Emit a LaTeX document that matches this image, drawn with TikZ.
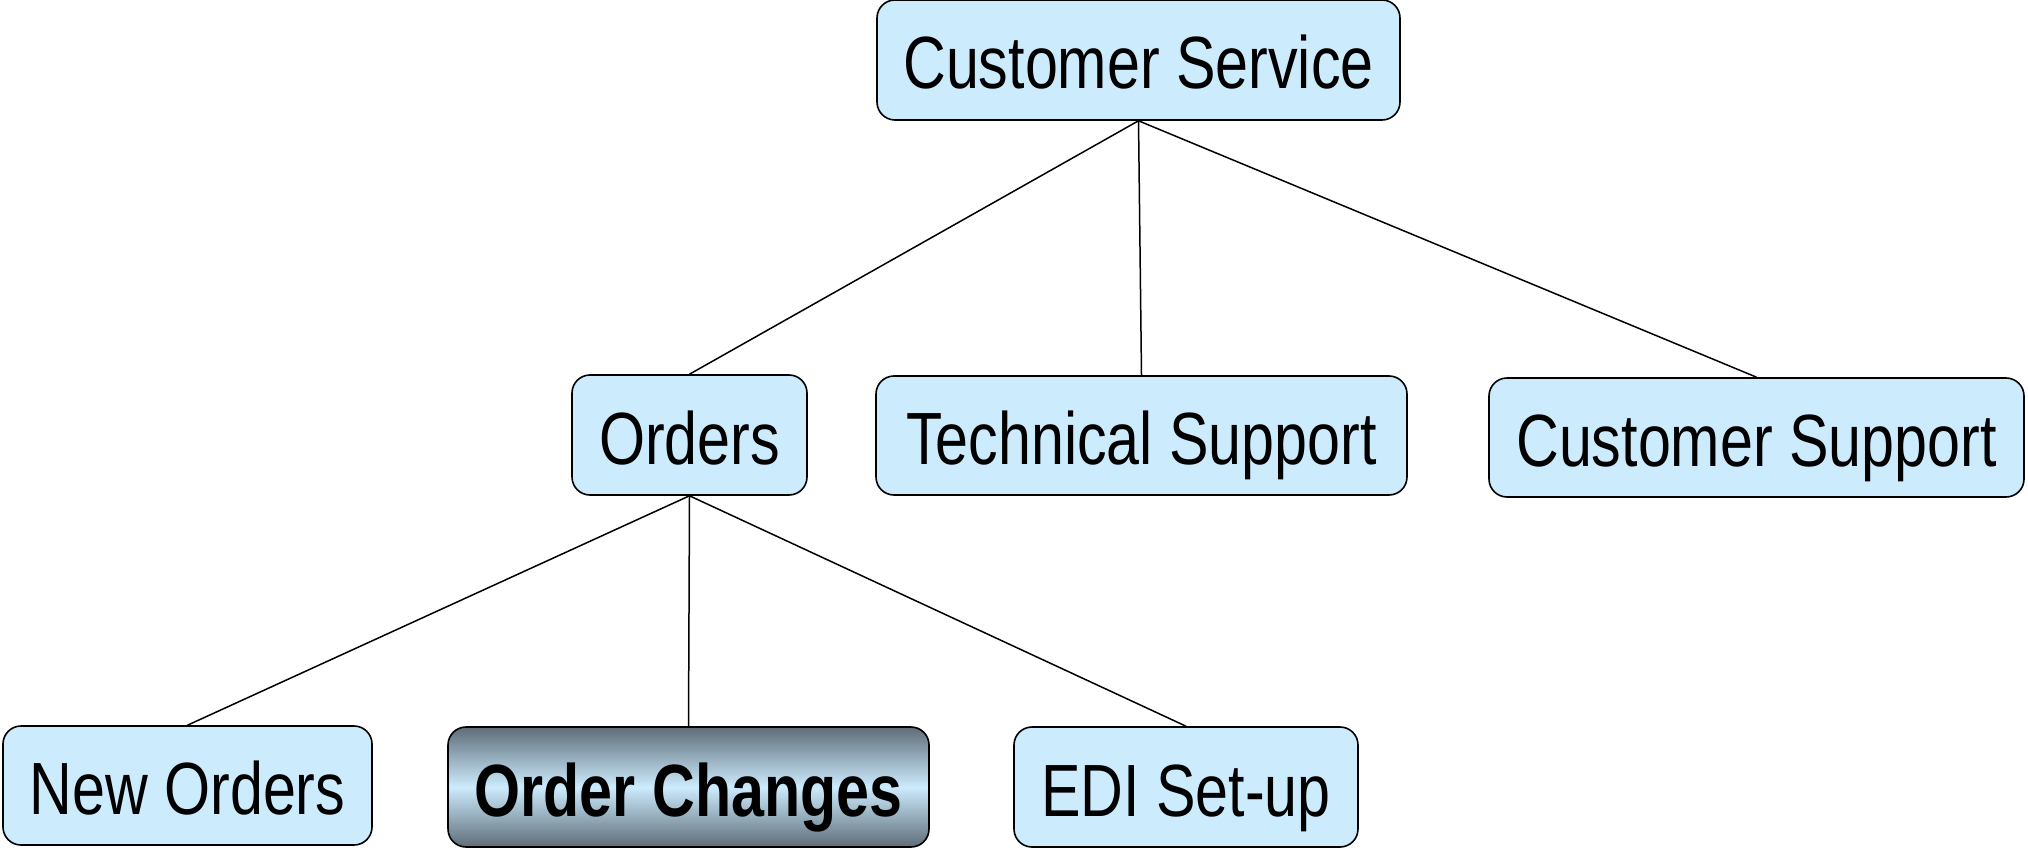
\documentclass[tikz,border=0pt]{standalone}
\usepackage{fontspec}
\setmainfont{Liberation Sans}[FakeStretch=0.8]
\definecolor{boxblue}{HTML}{CCEBFD}
\definecolor{slate}{HTML}{5E6D78}
\tikzset{
  unit/.style={draw=black, line width=1.6pt, rounded corners=18pt, fill=boxblue,
    inner sep=0pt, align=center, text height=58pt, text depth=0pt,
    font=\fontsize{74}{80}\selectfont},
  chosen/.style={unit, fill=none, top color=slate, bottom color=slate, middle color=boxblue,
    font=\fontsize{74}{80}\selectfont\bfseries},
  link/.style={draw=black, line width=1.5pt}
}
\begin{document}
\begin{tikzpicture}[x=1pt,y=-1pt]
\useasboundingbox (0,0) rectangle (2028,850);
\node[unit, minimum width=523pt, minimum height=120pt] (cs) at (1138.5,60) {Customer Service};
\node[unit, minimum width=235pt, minimum height=120pt] (ord) at (689.5,435) {Orders};
\node[unit, minimum width=531pt, minimum height=119pt] (tech) at (1141.5,435.5) {Technical Support};
\node[unit, minimum width=535pt, minimum height=119pt] (csup) at (1756.5,437.5) {Customer Support};
\node[unit, minimum width=369pt, minimum height=119pt] (new) at (187.5,785.5) {New Orders};
\node[chosen, minimum width=481pt, minimum height=120pt] (chg) at (688.5,787) {Order Changes};
\node[unit, minimum width=344pt, minimum height=120pt] (edi) at (1186,787) {EDI Set-up};
\draw[link] (cs.south) -- (ord.north);
\draw[link] (cs.south) -- (tech.north);
\draw[link] (cs.south) -- (csup.north);
\draw[link] (ord.south) -- (new.north);
\draw[link] (ord.south) -- (chg.north);
\draw[link] (ord.south) -- (edi.north);
\end{tikzpicture}
\end{document}
